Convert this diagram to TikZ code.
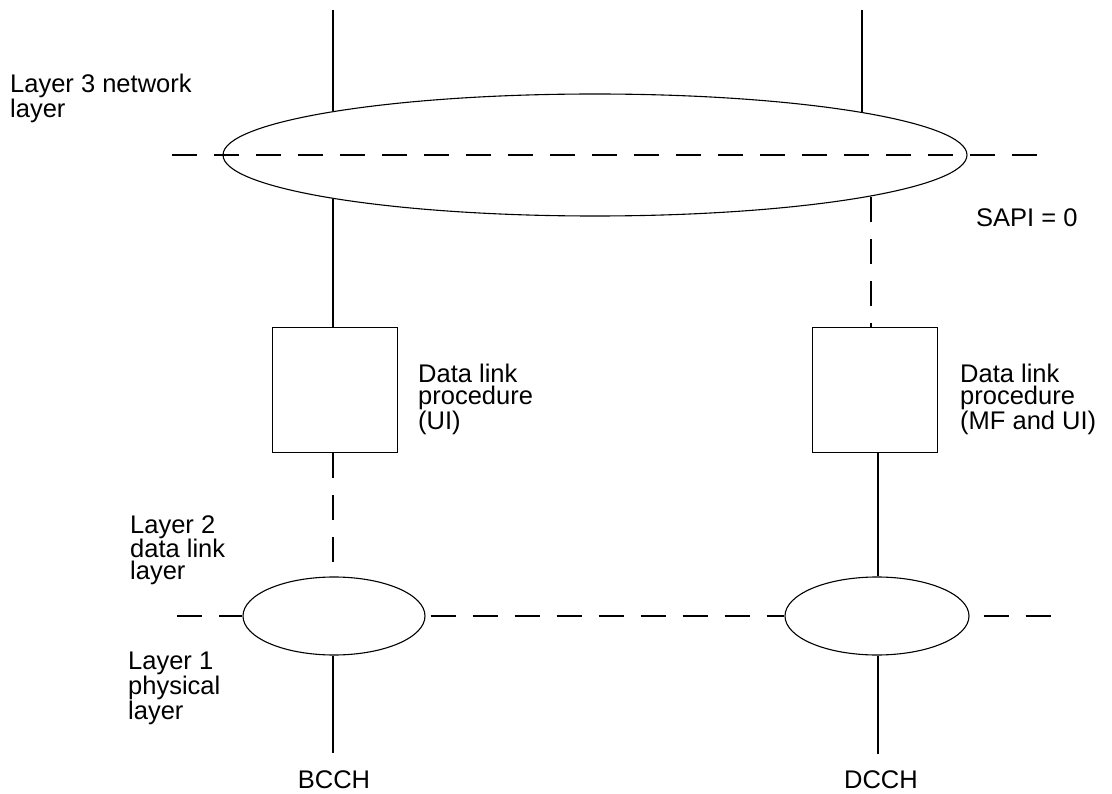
\documentclass[tikz,border=0pt]{standalone}
\usepackage{fontspec}
\setmainfont{Liberation Sans}
\usetikzlibrary{shapes.geometric}
\begin{document}
\begin{tikzpicture}[x=1pt,y=-1pt,
  lbl/.style={anchor=north west, inner sep=0pt, align=left, font=\fontsize{25.5}{22}\selectfont},
  chan/.style={inner sep=0pt, font=\fontsize{25.5}{25.5}\selectfont},
  ell/.style={draw, ellipse, inner sep=0pt, line width=1.1pt},
  blk/.style={draw, rectangle, minimum width=125pt, minimum height=125pt, inner sep=0pt, line width=1.1pt},
  ln/.style={line width=1.1pt},
  dsh/.style={line width=1.1pt, dash pattern=on 25pt off 17pt}]
\useasboundingbox (0,0) rectangle (1112,794);

% entities
\node[ell, minimum width=744pt, minimum height=122pt] (big) at (595,155) {};
\node[ell, minimum width=182pt, minimum height=78pt] (s1) at (334,616) {};
\node[ell, minimum width=184pt, minimum height=78pt] (s2) at (877,616) {};

\node[blk] (b1) at (335,390) {};
\node[blk] (b2) at (875,390) {};

% coordinates
\coordinate (t1) at (333,10);
\coordinate (t2) at (862,10);
\coordinate (e1t) at (333,111);
\coordinate (e2t) at (862,112);
\coordinate (e1b) at (333,199);
\coordinate (e2b) at (871,197);
\coordinate (hl) at (172,155);
\coordinate (hr) at (1045,155);
\coordinate (ll) at (177,616);
\coordinate (lr) at (1052,616);
\coordinate (c1) at (333,753);
\coordinate (c2) at (878,754);

% lines
\draw[ln] (t1) -- (e1t);
\draw[ln] (t2) -- (e2t);
\draw[dsh] (hl) -- (hr);
\draw[ln] (e1b) -- (e1b |- b1.north);
\draw[dsh] (e2b) -- (e2b |- b2.north);
\draw[dsh] (b1.south -| e1b) -- (s1.north -| e1b);
\draw[ln] (b2.south -| c2) -- (s2.north -| c2);
\draw[dsh] (ll) -- (s1.west);
\draw[dsh, dash phase=37pt] (s1.east) -- (s2.west);
\draw[dsh, dash phase=28pt] (s2.east) -- (lr);
\draw[ln] (s1.south -| c1) -- (c1);
\draw[ln] (s2.south -| c2) -- (c2);

% labels
\node[lbl] (l3) at (10,74) {Layer 3 network\\layer};
\node[lbl] (sapi) at (976,208) {SAPI = 0};
\node[lbl] (d1) at (418,364) {Data link\\procedure\\(UI)};
\node[lbl] (d2) at (960,364) {Data link\\procedure\\(MF and UI)};
\node[lbl] (l2) at (130,515) {Layer 2\\data link\\layer};
\node[lbl] (l1) at (128,652) {Layer 1\\physical\\layer};
\node[chan] (bcch) at (334,780) {BCCH};
\node[chan] (dcch) at (881,780) {DCCH};
\end{tikzpicture}
\end{document}
